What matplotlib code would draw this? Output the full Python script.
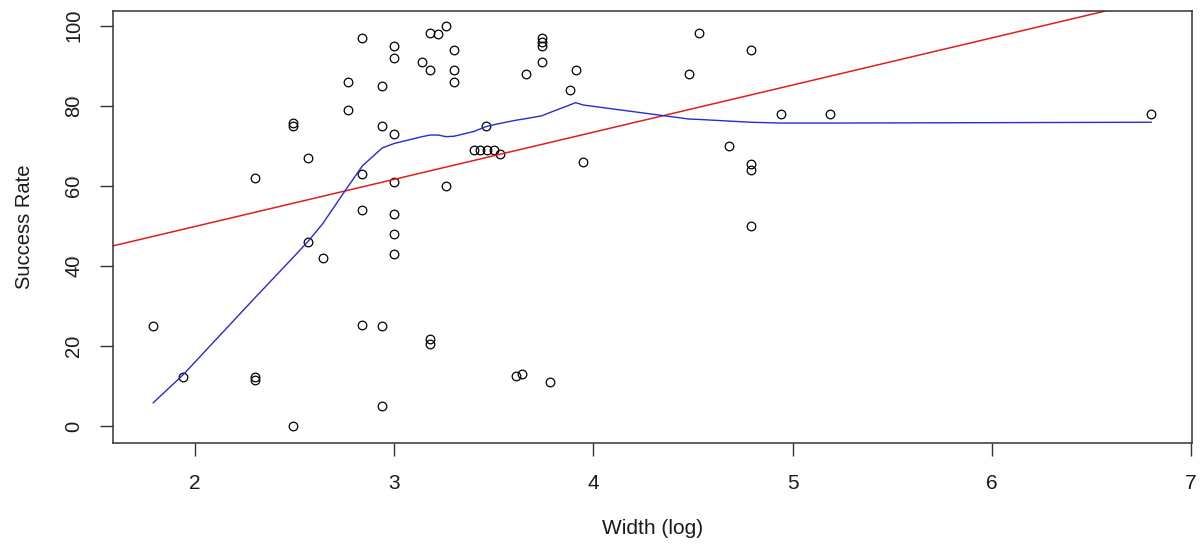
import numpy as np
import matplotlib
matplotlib.use("Agg")
import matplotlib.pyplot as plt

plt.rcParams['font.family'] = ['Liberation Sans', 'DejaVu Sans']

# scatter: log width vs success rate
width_log = [2.84, 3.00, 3.00, 2.77, 2.94, 2.77, 2.49, 2.49, 2.94, 3.00,
             2.565, 2.30, 2.84, 3.00, 2.84, 3.00, 3.00, 3.00, 2.565, 2.64,
             1.79, 2.84, 2.94, 1.94, 2.30, 2.30, 2.49, 2.94,
             3.18, 3.22, 3.26, 3.30, 3.14, 3.18, 3.30, 3.30, 3.74, 3.74,
             3.74, 3.74, 3.66, 3.91, 3.88, 4.53, 4.48, 3.46, 3.40, 3.43,
             3.465, 3.50, 3.53, 3.26, 3.95,
             3.18, 3.18, 3.61, 3.64, 3.78,
             4.79, 4.94, 5.19, 6.80, 4.68, 4.79, 4.79, 4.79]
success = [97, 95, 92, 86, 85, 79, 75.7, 75, 75, 73,
           67, 62, 63, 61, 54, 53, 48, 43, 46, 42,
           25, 25.2, 25, 12.3, 12.2, 11.4, 0, 5,
           98.2, 98, 100, 94, 91, 89, 89, 86, 97, 96,
           95, 91, 88, 89, 84, 98.2, 88, 75, 69, 69,
           69, 69, 68, 60, 66,
           21.7, 20.5, 12.6, 12.9, 11,
           94, 78, 78, 78, 70, 65.5, 64, 50]

# linear fit (red)
fit_intercept = 26.3
fit_slope = 11.78

# smoothed trend (blue)
smooth_x = [1.79, 1.94, 2.30, 2.49, 2.565, 2.64, 2.77, 2.84, 2.94, 3.00,
            3.14, 3.18, 3.22, 3.26, 3.30, 3.40, 3.46, 3.53, 3.61, 3.66,
            3.74, 3.78, 3.88, 3.91, 3.95, 4.48, 4.53, 4.68, 4.79, 4.94,
            5.19, 6.80]
smooth_y = [5.8, 12.8, 32.0, 42.0, 46.0, 50.5, 60.0, 65.0, 69.5, 70.6,
            72.3, 72.7, 72.7, 72.3, 72.4, 73.6, 74.8, 75.6, 76.4, 76.8,
            77.5, 78.3, 80.2, 80.8, 80.2, 76.7, 76.6, 76.2, 75.9, 75.7,
            75.7, 75.9]

fig = plt.figure(figsize=(12.04, 5.5), dpi=100)
ax = fig.add_axes([113 / 1204, 107 / 550, 1079 / 1204, 432 / 550])

ax.plot(width_log, success, linestyle='none', marker='o', markersize=6.2,
        markerfacecolor='none', markeredgecolor='black', markeredgewidth=0.9)
ax.axline((0, fit_intercept), slope=fit_slope, color='#dd1f1f', linewidth=1.1)
ax.plot(smooth_x, smooth_y, color='#2a2ad0', linewidth=1.0)

ax.set_xlim(1.588, 7.005)
ax.set_ylim(-4.25, 103.7)
ax.set_xticks([2, 3, 4, 5, 6, 7])
ax.set_yticks([0, 20, 40, 60, 80, 100])

for s in ax.spines.values():
    s.set_color('#333333')
    s.set_linewidth(1.1)

ax.tick_params(axis='x', length=9, width=1, color='#333333', pad=13,
               labelsize=15, labelcolor='#1a1a1a')
ax.tick_params(axis='y', length=9.5, width=1, color='#333333', pad=12,
               labelsize=14.5, labelcolor='#1a1a1a', labelrotation=90)
for lab in ax.get_yticklabels():
    lab.set_va('center')

ax.set_xlabel('Width (log)', fontsize=15, color='#1a1a1a', labelpad=19)
ax.set_ylabel('Success Rate', fontsize=14.5, color='#1a1a1a', labelpad=22)

fig.savefig('out.png', dpi=100)
